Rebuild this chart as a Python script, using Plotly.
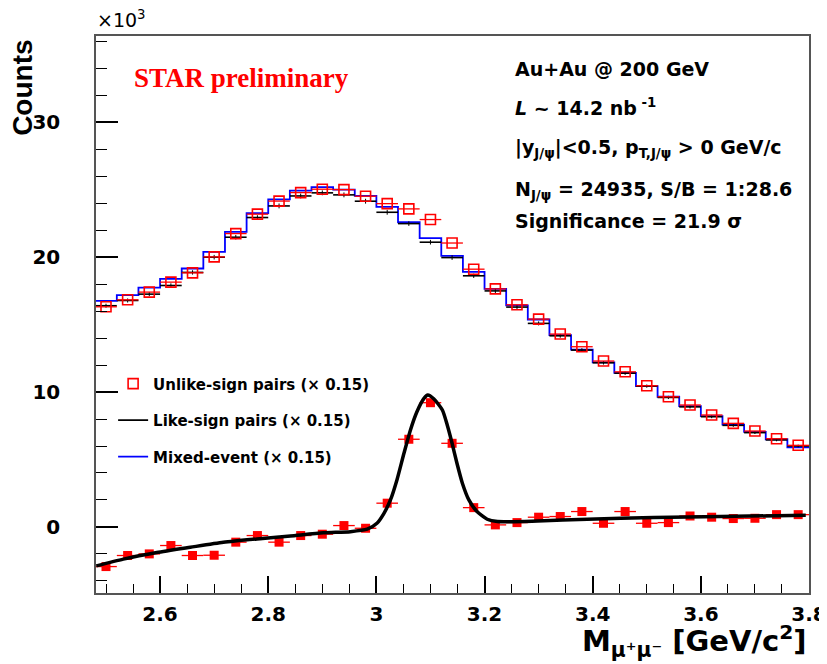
import plotly.graph_objects as go

# ---------------- data (values in units of 10^3 counts) ----------------
bin_centers = [2.50, 2.54, 2.58, 2.62, 2.66, 2.70, 2.74, 2.78, 2.82, 2.86, 2.90,
               2.94, 2.98, 3.02, 3.06, 3.10, 3.14, 3.18, 3.22, 3.26, 3.30, 3.34,
               3.38, 3.42, 3.46, 3.50, 3.54, 3.58, 3.62, 3.66, 3.70, 3.74, 3.78]
bin_half_width = 0.02

unlike_sign = [16.32, 16.84, 17.41, 18.15, 18.84, 20.02, 21.75, 23.19, 24.16, 24.79, 25.04,
               25.01, 24.52, 23.97, 23.58, 22.79, 21.05, 19.11, 17.65, 16.47, 15.41, 14.30,
               13.36, 12.30, 11.50, 10.47, 9.65, 9.04, 8.30, 7.68, 7.11, 6.54, 6.05]

like_sign = [16.40, 16.79, 17.26, 17.90, 18.87, 20.00, 21.48, 22.94, 23.80, 24.54, 24.77,
             24.62, 24.15, 23.33, 22.49, 21.11, 19.97, 18.62, 17.50, 16.30, 15.09, 14.17,
             13.11, 12.17, 11.40, 10.44, 9.60, 8.90, 8.17, 7.53, 6.99, 6.45, 6.00]
like_sign_err = [0.15, 0.15, 0.15, 0.16, 0.16, 0.17, 0.17, 0.17, 0.18, 0.18, 0.18,
                 0.18, 0.18, 0.18, 0.17, 0.17, 0.17, 0.16, 0.16, 0.15, 0.15, 0.14,
                 0.14, 0.13, 0.13, 0.12, 0.12, 0.12, 0.11, 0.11, 0.10, 0.10, 0.10]

mixed_event = [16.76, 17.19, 17.75, 18.39, 19.16, 20.39, 21.88, 23.26, 24.28, 24.94, 25.19,
               25.01, 24.54, 23.73, 22.59, 21.41, 20.10, 18.91, 17.65, 16.42, 15.38, 14.22,
               13.14, 12.20, 11.42, 10.44, 9.65, 8.96, 8.22, 7.58, 7.04, 6.50, 5.90]

signal = [-2.94, -2.12, -2.00, -1.38, -2.12, -2.10, -1.13, -0.64, -1.13, -0.64, -0.54,
          0.10, -0.10, 1.76, 6.50, 9.21, 6.20, 1.43, 0.15, 0.32, 0.72, 0.77,
          1.14, 0.27, 1.14, 0.27, 0.32, 0.81, 0.72, 0.62, 0.64, 0.91, 0.91]

fit_x = [2.482, 2.532, 2.594, 2.656, 2.717, 2.779, 2.841, 2.902, 2.952, 2.983, 3.001,
         3.014, 3.026, 3.038, 3.051, 3.063, 3.075, 3.088, 3.095, 3.106, 3.122, 3.131,
         3.140, 3.149, 3.159, 3.171, 3.186, 3.205, 3.224, 3.298, 3.390, 3.513, 3.637, 3.794]
fit_y = [-2.89, -2.39, -1.90, -1.51, -1.14, -0.89, -0.67, -0.44, -0.35, -0.17, 0.27,
         1.01, 2.00, 3.48, 5.46, 7.19, 8.54, 9.53, 9.78, 9.50, 8.67, 7.56,
         6.20, 4.72, 3.24, 2.00, 1.14, 0.57, 0.40, 0.44, 0.57, 0.69, 0.77, 0.87]

x_range = [2.4815, 3.8]
y_range = [-4.9, 36.4]

# ---------------- derived drawing arrays ----------------
edges = [c - bin_half_width for c in bin_centers] + [bin_centers[-1] + bin_half_width]
mixed_steps = mixed_event + [mixed_event[-1]]

like_x, like_y = [], []
for c, v in zip(bin_centers, like_sign):
    like_x += [c - bin_half_width, c + bin_half_width, None]
    like_y += [v, v, None]

SANS = "DejaVu Sans"
fig = go.Figure()

# mixed-event step histogram
fig.add_trace(go.Scatter(
    x=edges, y=mixed_steps, mode="lines", line=dict(color="#0000ff", width=1.8, shape="hv"),
    name="Mixed-event (× 0.15)", legendgroup="g3", legendrank=3))

# like-sign histogram (horizontal segments)
fig.add_trace(go.Scatter(
    x=like_x, y=like_y, mode="lines", line=dict(color="black", width=1.6),
    name="Like-sign pairs (× 0.15)", legendgroup="g2", legendrank=2, connectgaps=False))
fig.add_trace(go.Scatter(
    x=bin_centers, y=like_sign, mode="markers", marker=dict(size=1, color="black"),
    error_y=dict(type="data", array=like_sign_err, color="black", thickness=1, width=0),
    showlegend=False, hoverinfo="skip"))

# unlike-sign
fig.add_trace(go.Scatter(
    x=bin_centers, y=unlike_sign, mode="markers",
    marker=dict(symbol="square-open", size=10, color="#ff0000", line=dict(width=1.6, color="#ff0000")),
    error_x=dict(type="constant", value=bin_half_width, color="#ff0000", thickness=1.3, width=0),
    name="Unlike-sign pairs (× 0.15)", legendgroup="g1", legendrank=1))

# signal (unlike - background)
fig.add_trace(go.Scatter(
    x=bin_centers, y=signal, mode="markers",
    marker=dict(symbol="square", size=9, color="#ff0000"),
    error_x=dict(type="constant", value=bin_half_width, color="#ff0000", thickness=1.3, width=0),
    showlegend=False))

# fit curve
fig.add_trace(go.Scatter(
    x=fit_x, y=fit_y, mode="lines", line=dict(color="black", width=3.5, shape="spline", smoothing=0.6),
    showlegend=False))

axis_common = dict(showline=True, linecolor="#555555", linewidth=1.5, mirror=True,
                   ticks="inside", tickcolor="black", tickwidth=1.5,
                   showgrid=False, zeroline=False, automargin=False,
                   tickfont=dict(family=SANS, size=20, color="black", weight="bold"))

fig.update_xaxes(range=x_range, tick0=2.4, dtick=0.2, ticklen=17, ticklabelstandoff=2,
                 minor=dict(dtick=0.05, ticklen=9, ticks="inside", tickcolor="black", tickwidth=1.2),
                 **axis_common)
fig.update_yaxes(range=y_range, tick0=0, dtick=10, ticklen=22, ticklabelstandoff=30,
                 minor=dict(dtick=2, ticklen=11, ticks="inside", tickcolor="black", tickwidth=1.2),
                 **axis_common)

ann = []
ann.append(dict(text="×10<sup>3</sup>", x=-0.002, y=1.03, xref="paper", yref="paper",
                xanchor="left", yanchor="middle", showarrow=False,
                font=dict(family=SANS, size=19, color="black")))
ann.append(dict(text="Counts", x=-0.104, y=0.9066, xref="paper", yref="paper", textangle=-90,
                xanchor="center", yanchor="middle", showarrow=False,
                font=dict(family="Liberation Sans", size=28, color="black", weight="bold")))
ann.append(dict(text="M<sub>μ⁺μ⁻</sub> [GeV/c<sup>2</sup>]", x=1.0, y=-0.087, xref="paper", yref="paper",
                xanchor="right", yanchor="middle", showarrow=False,
                font=dict(family=SANS, size=29, color="black", weight="bold")))
ann.append(dict(text="STAR preliminary", x=0.0505, y=0.9246, xref="paper", yref="paper",
                xanchor="left", yanchor="middle", showarrow=False,
                font=dict(family="Liberation Serif", size=27, color="#ff0000", weight="bold")))

info_lines = [
    ("Au+Au @ 200 GeV", 69),
    ("<i>L</i> ~ 14.2 nb<sup> -1</sup>", 107),
    ("|y<sub>J/ψ</sub>|<0.5, p<sub>T,J/ψ</sub> > 0 GeV/c", 148),
    ("N<sub>J/ψ</sub> = 24935, S/B = 1:28.6", 190),
    ("Significance = 21.9 σ", 221),
]
for txt, ypx in info_lines:
    ann.append(dict(text=txt, x=(513 - 96) / 713, y=(593 - ypx) / 557, xref="paper", yref="paper",
                    xanchor="left", yanchor="middle", showarrow=False,
                    font=dict(family=SANS, size=19, color="black", weight="bold")))

# the page body adds an 8 px offset, so the figure is sized/margined to compensate
fig.update_layout(
    width=819, height=656,
    margin=dict(l=88, r=18, t=28, b=71, autoexpand=False),
    paper_bgcolor="white", plot_bgcolor="white",
    annotations=ann,
    showlegend=True,
    legend=dict(x=0.024, y=0.405, xanchor="left", yanchor="top",
                bgcolor="rgba(0,0,0,0)", borderwidth=0, tracegroupgap=14,
                font=dict(family=SANS, size=15, color="black", weight="bold"),
                itemwidth=30),
)

fig.write_html("out.html")
